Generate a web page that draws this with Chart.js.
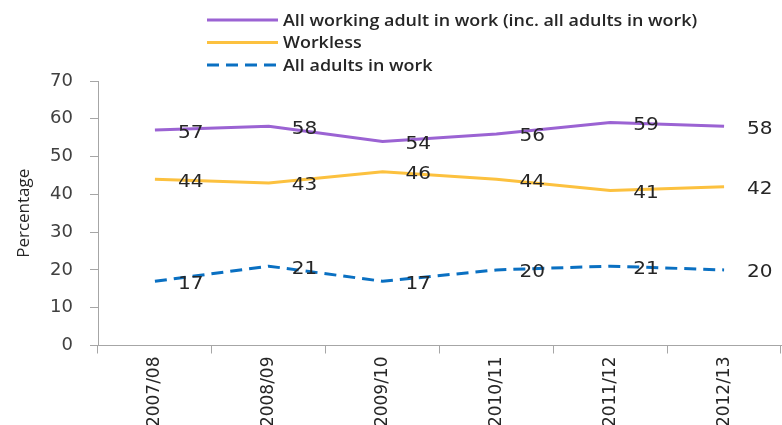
<!DOCTYPE html>
<html>
<head>
<meta charset="utf-8">
<script src="https://cdn.jsdelivr.net/npm/chart.js@4/dist/chart.umd.min.js"></script>
<style>
  html,body{margin:0;padding:0;background:#fff;}
  #wrap{width:782px;height:425px;position:relative;}
</style>
</head>
<body>
<div id="wrap"><canvas id="c" width="782" height="425"></canvas></div>
<script>
const categories = ["2007/08","2008/09","2009/10","2010/11","2011/12","2012/13"];
const seriesNames = ["All working adult in work (inc. all adults in work)","Workless","All adults in work"];
const allWorkingAdult = [57,58,54,56,59,58];
const workless = [44,43,46,44,41,42];
const allAdultsInWork = [17,21,17,20,21,20];
const yTicks = [0,10,20,30,40,50,60,70];

const colors = ["#9B63D3","#FCC13F","#0A70C2"];
const dashes = [[],[],[12,7]];

const legendPlugin = {
  id:'customLegend',
  afterDraw(chart){
    const ctx = chart.ctx;
    ctx.save();
    chart.data.datasets.forEach((ds,i)=>{
      const y = 20 + i*22.5;
      ctx.strokeStyle = ds.borderColor;
      ctx.lineWidth = 3;
      ctx.setLineDash(ds.borderDash || []);
      ctx.beginPath();
      ctx.moveTo(207,y);
      ctx.lineTo(278,y);
      ctx.stroke();
      ctx.setLineDash([]);
      ctx.save();
      ctx.translate(283, y+1);
      ctx.scale(1.12,1);
      ctx.fillStyle = "#262626";
      ctx.font = "600 16px 'Open Sans'";
      ctx.textBaseline = "middle";
      ctx.textAlign = "left";
      ctx.fillText(ds.label, 0, 0);
      ctx.restore();
    });
    ctx.restore();
  }
};

const labelPlugin = {
  id:'dataLabels',
  afterDatasetsDraw(chart){
    const ctx = chart.ctx;
    chart.data.datasets.forEach((ds,i)=>{
      const meta = chart.getDatasetMeta(i);
      meta.data.forEach((pt,j)=>{
        ctx.save();
        ctx.translate(pt.x+23, pt.y+3);
        ctx.scale(1.18,1);
        ctx.fillStyle = "#262626";
        ctx.font = "17px 'DejaVu Sans'";
        ctx.textBaseline = "middle";
        ctx.textAlign = "left";
        ctx.fillText(String(ds.data[j]), 0, 0);
        ctx.restore();
      });
    });
  }
};

new Chart(document.getElementById('c'),{
  type:'line',
  data:{
    labels:categories,
    datasets:[allWorkingAdult,workless,allAdultsInWork].map((d,i)=>({
      label:seriesNames[i],
      data:d,
      borderColor:colors[i],
      backgroundColor:colors[i],
      borderWidth:3,
      borderDash:dashes[i],
      pointRadius:0,
      tension:0,
      fill:false
    }))
  },
  options:{
    responsive:false,
    animation:false,
    layout:{padding:{top:81,right:1,left:0,bottom:0}},
    plugins:{legend:{display:false},tooltip:{enabled:false}},
    scales:{
      x:{
        offset:true,
        grid:{display:true,drawOnChartArea:false,offset:true,tickLength:8,color:"#A6A6A6",lineWidth:1},
        border:{display:true,color:"#A6A6A6",width:1},
        ticks:{minRotation:90,maxRotation:90,autoSkip:false,padding:3,color:"#262626",font:{family:"'DejaVu Sans'",size:17}},
        afterFit(s){s.height=79.5;}
      },
      y:{
        min:0,max:70,
        afterBuildTicks(s){s.ticks = yTicks.map(v=>({value:v}));},
        grid:{display:true,drawOnChartArea:false,tickLength:8,color:"#A6A6A6",lineWidth:1},
        border:{display:true,color:"#A6A6A6",width:1},
        ticks:{padding:17,color:"#404040",font:{family:"'DejaVu Sans'",size:18}},
        title:{display:true,text:"Percentage",color:"#262626",font:{family:"'Open Sans'",size:17},padding:{top:14,bottom:0}},
        afterFit(s){s.width=98;}
      }
    }
  },
  plugins:[legendPlugin,labelPlugin]
});
</script>
</body>
</html>
